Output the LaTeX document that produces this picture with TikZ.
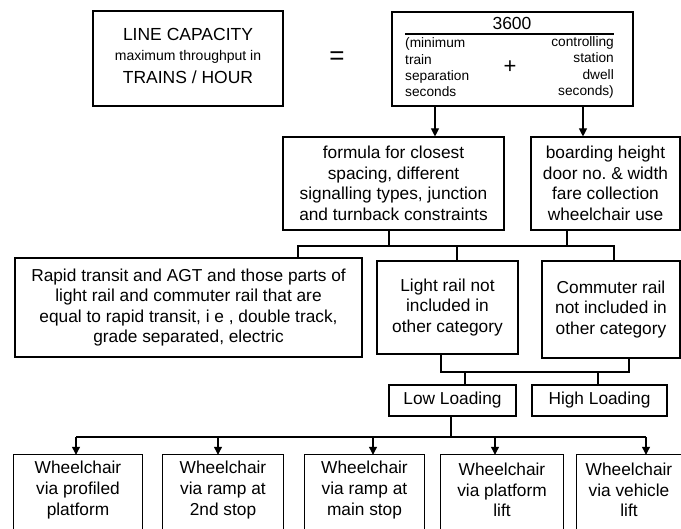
\documentclass[tikz,border=0pt]{standalone}
\usepackage{fontspec}
\setmainfont{Liberation Sans}
\usetikzlibrary{arrows.meta}
\frenchspacing
\begin{document}
\begin{tikzpicture}[x=1pt,y=-1pt,
  bigf/.style={font=\fontsize{17.3}{20.6}\selectfont},
  box/.style={draw, line width=1.1pt, inner sep=0pt, align=center, bigf},
  lbl/.style={inner sep=0pt, align=center},
  wb/.style={inner sep=0pt, align=center, bigf, minimum height=70pt},
  con/.style={line width=1.1pt},
  arr/.style={line width=1.1pt, -{Triangle[length=8pt,width=8pt]}}]
\useasboundingbox (0,0) rectangle (681,529);
\clip (0,0) rectangle (681,529);

% top left box
\node[box, minimum width=190pt, minimum height=95pt] (lc) at (188,58.5) {};
\node[lbl, font=\fontsize{17.5}{21}\selectfont] (lc1) at (188,34) {LINE CAPACITY};
\node[lbl, font=\fontsize{14}{17}\selectfont] (lc2) at (188,57) {maximum throughput in};
\node[lbl, font=\fontsize{17.5}{21}\selectfont] (lc3) at (188,77) {TRAINS / HOUR};

\node[lbl, font=\fontsize{26}{30}\selectfont] (eq) at (337,58) {=};

% formula box
\node[box, minimum width=241pt, minimum height=94pt] (fb) at (512.5,59) {};
\node[lbl, font=\fontsize{17.5}{21}\selectfont] (num) at (512,23) {3600};
\coordinate (fl) at (405,34);
\coordinate (fr) at (614,34);
\draw[con] (fl) -- (fr);
\node[lbl, anchor=west, align=left, font=\fontsize{13.7}{16.3}\selectfont] (den1) at (405,67.5) {(minimum\\train\\separation\\seconds};
\node[lbl, anchor=east, align=right, font=\fontsize{13.7}{16.3}\selectfont] (den2) at (614,67.5) {controlling\\station\hspace*{4pt}\\dwell\hspace*{4pt}\\seconds)};
\node[lbl, font=\fontsize{22}{26}\selectfont] (plus) at (510,67) {+};

% second row
\node[box, minimum width=221pt, minimum height=93pt] (fc) at (393.5,183.5) {formula for closest\\spacing, different\\signalling types, junction\\and turnback constraints};
\node[box, minimum width=149pt, minimum height=93pt] (bd) at (605.5,183.5) {boarding height\\door no. \& width\\fare collection\\wheelchair use};

% third row
\node[box, minimum width=347pt, minimum height=99pt] (rt) at (188.5,307.5) {Rapid transit and AGT and those parts of\\light rail and commuter rail that are\\equal to rapid transit, i e , double track,\\grade separated, electric};
\node[box, minimum width=141pt, minimum height=93pt] (lr) at (447.5,307.5) {Light rail not\\included in\\other category};
\node[box, minimum width=138pt, minimum height=97pt] (cr) at (611,309.5) {Commuter rail\\not included in\\other category};

% loading
\node[box, minimum width=127pt, minimum height=31pt] (ll) at (452.5,400.5) {Low Loading};
\node[box, minimum width=135pt, minimum height=31pt] (hl) at (599.5,400.5) {High Loading};

% wheelchair boxes (cut off at the bottom)
\node[wb, minimum width=128pt] (w1) at (78,490) {Wheelchair\\via profiled\\platform};
\node[wb, minimum width=120pt] (w2) at (223,490) {Wheelchair\\via ramp at\\2nd stop};
\node[wb, minimum width=119pt] (w3) at (364.5,490) {Wheelchair\\via ramp at\\main stop};
\node[wb, minimum width=122pt] (w4) at (502,490) {Wheelchair\\via platform\\lift};
\node[wb, minimum width=104pt] (w5) at (629,490) {Wheelchair\\via vehicle\\lift};
\foreach \w in {w1,w2,w3,w4,w5}
  \draw[con] (\w.north west) rectangle ([yshift=-60pt]\w.south east);

% connectors
\draw[arr] ([xshift=-77.5pt]fb.south) -- ([xshift=-77.5pt]fb.south |- fc.north);
\draw[arr] ([xshift=70.5pt]fb.south) -- ([xshift=70.5pt]fb.south |- bd.north);

\coordinate (t1) at (298,246);
\coordinate (t2) at (614,246);
\draw[con] ([xshift=-4.5pt]fc.south) -- ([xshift=-4.5pt]fc.south |- t1);
\draw[con] ([xshift=-38.5pt]bd.south) -- ([xshift=-38.5pt]bd.south |- t1);
\draw[con] (t1 |- rt.north) -- (t1) -- (t2) -- (t2 |- cr.north);
\draw[con] ([xshift=9.5pt]lr.north) -- ([xshift=9.5pt]lr.north |- t1);

\coordinate (m1) at (441,372);
\coordinate (m2) at (629,372);
\draw[con] ([xshift=-6.5pt]lr.south) -- (m1) -- (m2) -- ([xshift=18pt]cr.south);
\draw[con] ([xshift=12.5pt]ll.north) -- ([xshift=12.5pt]ll.north |- m1);
\draw[con] ([xshift=-1.5pt]hl.north) -- ([xshift=-1.5pt]hl.north |- m1);

\coordinate (b1) at (76,437);
\coordinate (b2) at (646,437);
\draw[con] ([xshift=-1.5pt]ll.south) -- ([xshift=-1.5pt]ll.south |- b1);
\draw[con] (b1) -- (b2);
\draw[arr] (b1) -- (b1 |- w1.north);
\draw[arr] ([xshift=-5pt]w2.north |- b1) -- ([xshift=-5pt]w2.north);
\draw[arr] ([xshift=8.5pt]w3.north |- b1) -- ([xshift=8.5pt]w3.north);
\draw[arr] ([xshift=-7pt]w4.north |- b1) -- ([xshift=-7pt]w4.north);
\draw[arr] (b2) -- (b2 |- w5.north);
\end{tikzpicture}
\end{document}
